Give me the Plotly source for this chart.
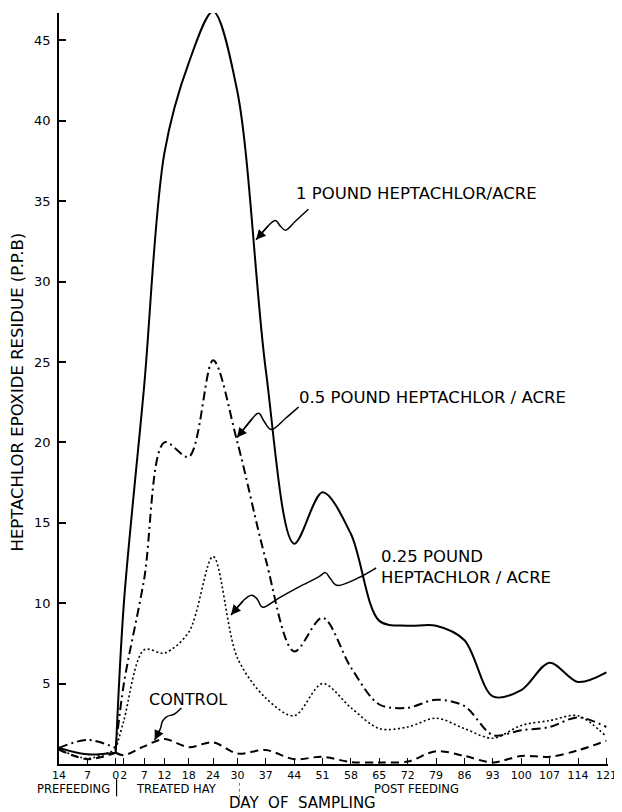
import plotly.graph_objects as go

# ---------------- data ----------------
days = [-14, -7, 0, 2, 7, 12, 18, 24, 30, 37, 44, 51, 58, 65, 72, 79, 86, 93, 100, 107, 114, 121]
day_labels = ["14", "7", "0", "2", "7", "12", "18", "24", "30", "37", "44", "51", "58",
              "65", "72", "79", "86", "93", "100", "107", "114", "121"]

one_lb = [1.0, 0.6, 0.7, 10.0, 23.5, 38.0, 43.6, 46.8, 41.8, 24.5, 13.7, 16.9, 14.3,
          8.9, 8.6, 8.6, 7.7, 4.2, 4.6, 6.3, 5.1, 5.7]
half_lb = [1.0, 1.5, 1.0, 5.0, 11.5, 20.0, 19.1, 25.1, 20.0, 12.7, 7.0, 9.1, 6.0,
           3.7, 3.5, 4.0, 3.6, 1.8, 2.1, 2.3, 2.9, 2.3]
quarter_lb = [0.9, 0.35, 0.9, 2.7, 7.1, 6.9, 8.2, 12.9, 6.6, 4.1, 3.0, 5.0, 3.5,
              2.2, 2.3, 2.85, 2.2, 1.6, 2.4, 2.7, 3.0, 1.7]
control = [0.9, 0.3, 0.7, 0.55, 1.1, 1.55, 1.05, 1.35, 0.65, 0.87, 0.3, 0.45, 0.12,
           0.1, 0.15, 0.8, 0.5, 0.1, 0.5, 0.45, 0.85, 1.45]

y_ticks = [5, 10, 15, 20, 25, 30, 35, 40, 45]

FONT = "DejaVu Sans"
INK = "black"

series = [
    (one_lb, dict(color=INK, width=2.0, dash="solid")),
    (half_lb, dict(color=INK, width=2.0, dash="9px,4px,2px,4px")),
    (quarter_lb, dict(color=INK, width=1.6, dash="2px,2.5px")),
    (control, dict(color=INK, width=2.0, dash="8px,5px")),
]

fig = go.Figure()
split = days.index(0)
for vals, style in series:
    # pre-feeding segment and feeding/post segment (sharp corner at day 0)
    for sl in (slice(0, split + 1), slice(split, None)):
        fig.add_trace(go.Scatter(
            x=days[sl], y=vals[sl], mode="lines",
            line=dict(shape="spline", smoothing=0.9, **style),
            showlegend=False, hoverinfo="skip", cliponaxis=False,
        ))

# ---------------- annotation arrows (smooth squiggles) ----------------
def smooth_path(pts):
    # Catmull-Rom through the points, written as cubic Bezier segments
    d = f"M {pts[0][0]},{pts[0][1]}"
    n = len(pts)
    for i in range(n - 1):
        p0 = pts[i - 1] if i > 0 else pts[i]
        p1, p2 = pts[i], pts[i + 1]
        p3 = pts[i + 2] if i + 2 < n else pts[i + 1]
        c1 = (p1[0] + (p2[0] - p0[0]) / 6, p1[1] + (p2[1] - p0[1]) / 6)
        c2 = (p2[0] - (p3[0] - p1[0]) / 6, p2[1] - (p3[1] - p1[1]) / 6)
        d += f" C {c1[0]:.3f},{c1[1]:.3f} {c2[0]:.3f},{c2[1]:.3f} {p2[0]},{p2[1]}"
    return d

def squiggle(pts):
    fig.add_shape(type="path", path=smooth_path(pts), xref="x", yref="y",
                  line=dict(color=INK, width=1.5))
    (x0, y0), (x1, y1) = pts[-2], pts[-1]
    fig.add_annotation(x=x1, y=y1, ax=x0, ay=y0, xref="x", yref="y",
                       axref="x", ayref="y", text="", showarrow=True,
                       arrowhead=2, arrowsize=1.3, arrowwidth=1.5, arrowcolor=INK)

squiggle([(47.5, 34.5), (44.3, 33.75), (42.0, 33.2), (40.6, 33.45), (39.4, 33.8),
          (37.9, 33.55), (34.6, 32.6)])
squiggle([(45.1, 22.2), (41.9, 21.5), (38.5, 20.8), (36.6, 21.3), (35.4, 21.8),
          (33.9, 21.55), (29.9, 20.3)])
squiggle([(64.2, 12.19), (59.8, 11.57), (54.9, 11.1), (53.0, 11.5), (51.7, 11.9),
          (49.8, 11.6), (45.1, 11.0), (40.2, 10.32), (36.4, 9.75), (34.9, 10.25),
          (33.5, 10.5), (31.6, 10.2), (28.4, 9.27)])
squiggle([(16.2, 3.48), (14.5, 3.11), (12.6, 2.95), (11.5, 2.65), (11.0, 2.2),
          (9.6, 1.49)])

def label(text, x, y, size=16.5, xanchor="left", align="left", xref="x", yref="y"):
    fig.add_annotation(x=x, y=y, xref=xref, yref=yref, text=text, showarrow=False,
                       xanchor=xanchor, yanchor="middle", align=align,
                       font=dict(family=FONT, size=size, color=INK))

label("1 POUND HEPTACHLOR/ACRE", 44.0, 35.5)
label("0.5 POUND HEPTACHLOR / ACRE", 44.7, 22.8)
label("0.25 POUND<br>HEPTACHLOR / ACRE", 65.0, 12.25)
label("CONTROL", 17.9, 4.04, size=16, xanchor="center")

# group labels under the x axis (paper y)
label("PREFEEDING", -10.5, -0.033, size=11.5, xanchor="center", yref="paper")
label("TREATED HAY", 15.1, -0.033, size=11.5, xanchor="center", yref="paper")
label("POST FEEDING", 74.1, -0.033, size=11.5, xanchor="center", yref="paper")
label("DAY  OF  SAMPLING", 46.1, -0.0515, size=15, xanchor="center", yref="paper")

fig.add_shape(type="line", x0=0.2, x1=0.2, y0=-0.02, y1=-0.043, xref="x", yref="paper",
              line=dict(color=INK, width=1.2))
fig.add_shape(type="line", x0=30.5, x1=30.5, y0=-0.025, y1=-0.048, xref="x", yref="paper",
              line=dict(color="#777", width=1, dash="dot"))

# y axis title
fig.add_annotation(x=-0.076, y=0.495, xref="paper", yref="paper", xanchor="center",
                   yanchor="middle",
                   text="HEPTACHLOR EPOXIDE RESIDUE (P.P.B)", textangle=-90,
                   showarrow=False, font=dict(family=FONT, size=16.5, color=INK))

# the page body adds an 8px margin, so the figure is 8px smaller than the window
fig.update_layout(
    width=614, height=804,
    margin=dict(l=51, r=12, t=5, b=48),
    paper_bgcolor="white", plot_bgcolor="white",
    showlegend=False,
    xaxis=dict(range=[-14, 121.4], tickmode="array", tickvals=days, ticktext=day_labels,
               ticks="inside", ticklen=6, tickwidth=1.2, tickcolor=INK, tickangle=0,
               showline=True, linecolor=INK, linewidth=1.5, showgrid=False,
               zeroline=False, tickfont=dict(family=FONT, size=11, color=INK)),
    yaxis=dict(range=[0, 46.7], tickmode="array", tickvals=y_ticks,
               ticks="inside", ticklen=7, tickwidth=1.5, tickcolor=INK,
               showline=True, linecolor=INK, linewidth=1.5, showgrid=False,
               zeroline=False, ticklabelstandoff=4,
               tickfont=dict(family=FONT, size=13, color=INK)),
)

fig.write_html("out.html")
